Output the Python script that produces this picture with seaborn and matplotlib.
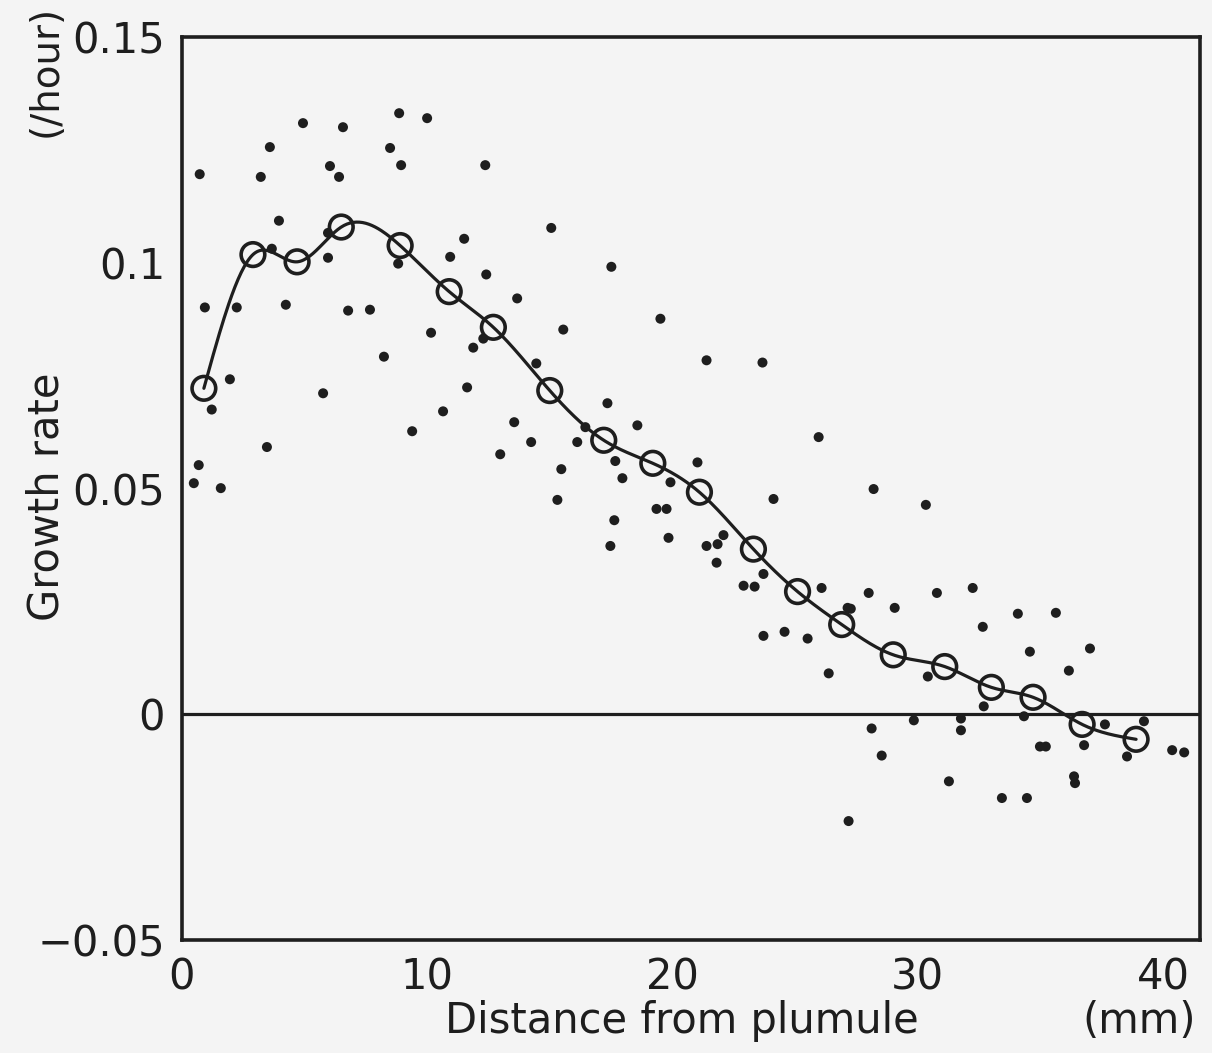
import numpy as np
import pandas as pd
import matplotlib
matplotlib.use("Agg")
import matplotlib.pyplot as plt
import seaborn as sns
from matplotlib import font_manager

# ---------------- data ----------------
mean_x = [0.9, 2.9, 4.7, 6.5, 8.9, 10.9, 12.7, 15.0, 17.2, 19.2,
          21.1, 23.3, 25.1, 26.9, 29.0, 31.1, 33.0, 34.7, 36.7, 38.9]
mean_y = [0.0722, 0.1018, 0.1002, 0.1079, 0.1038, 0.0936, 0.0857, 0.0717, 0.0607, 0.0556,
          0.0492, 0.0366, 0.0272, 0.0199, 0.0132, 0.0106, 0.0060, 0.0038, -0.0022, -0.0055]

dot_x = [0.73, 3.22, 3.59, 4.94, 6.57, 6.04, 6.41, 8.86, 10.0, 8.49,
         8.94, 12.37, 3.96, 5.96, 11.51, 10.94, 12.41, 13.67, 0.94, 2.24,
         4.24, 6.78, 7.67, 10.16, 11.88, 8.24, 8.82, 3.67, 12.29, 5.96,
         15.06, 17.51, 15.55, 19.51, 21.39, 23.67, 14.45, 1.96, 5.76, 11.63,
         1.22, 10.65, 13.55, 9.39, 3.47, 12.98, 0.69, 0.49, 1.59, 17.35,
         18.57, 14.24, 16.12, 25.96, 15.47, 17.67, 17.96, 19.92, 21.02, 15.31,
         19.35, 19.76, 24.12, 17.63, 19.84, 22.08, 21.39, 21.84, 21.80, 17.47,
         23.71, 22.90, 23.35, 26.08, 23.71, 24.57, 25.51, 26.37, 27.14, 28.2,
         30.33, 28.0, 30.78, 32.24, 27.27, 29.06, 32.65, 34.08, 35.63, 34.57,
         37.02, 36.16, 29.84, 31.76, 31.76, 34.33, 28.12, 28.53, 31.27, 33.43,
         34.45, 27.18, 34.98, 35.22, 36.78, 36.37, 36.41, 37.63, 39.22, 38.53,
         40.37, 40.86, 32.69, 30.41, 16.45]
dot_y = [0.1196, 0.1190, 0.1256, 0.1309, 0.1300, 0.1214, 0.1190, 0.1331, 0.1320, 0.1254,
         0.1216, 0.1216, 0.1093, 0.1011, 0.1053, 0.1013, 0.0974, 0.0921, 0.0901, 0.0901,
         0.0907, 0.0894, 0.0896, 0.0845, 0.0812, 0.0792, 0.0998, 0.1031, 0.0832, 0.1066,
         0.1077, 0.0991, 0.0852, 0.0876, 0.0784, 0.0779, 0.0777, 0.0742, 0.0711, 0.0724,
         0.0675, 0.0671, 0.0647, 0.0627, 0.0592, 0.0576, 0.0552, 0.0512, 0.0501, 0.0689,
         0.0640, 0.0603, 0.0603, 0.0614, 0.0543, 0.0561, 0.0523, 0.0514, 0.0558, 0.0475,
         0.0455, 0.0455, 0.0477, 0.0430, 0.0391, 0.0397, 0.0373, 0.0377, 0.0336, 0.0373,
         0.0311, 0.0285, 0.0283, 0.0280, 0.0174, 0.0183, 0.0168, 0.0091, 0.0236, 0.0499,
         0.0464, 0.0269, 0.0269, 0.0280, 0.0234, 0.0236, 0.0194, 0.0223, 0.0225, 0.0139,
         0.0146, 0.0097, -0.0013, -0.0035, -0.0009, -0.0004, -0.0031, -0.0091, -0.0148, -0.0185,
         -0.0185, -0.0236, -0.0071, -0.0071, -0.0068, -0.0137, -0.0152, -0.0022, -0.0015, -0.0093,
         -0.0079, -0.0084, 0.0018, 0.0084, 0.0636]

x_ticks = [0, 10, 20, 30, 40]
x_tick_labels = ["0", "10", "20", "30", "40"]
y_ticks = [-0.05, 0, 0.05, 0.1, 0.15]
y_tick_labels = ["\u22120.05", "0", "0.05", "0.1", "0.15"]


def natural_spline(x, y, n=600):
    x = np.asarray(x, float)
    y = np.asarray(y, float)
    m = len(x)
    h = np.diff(x)
    A = np.zeros((m, m))
    b = np.zeros(m)
    A[0, 0] = A[-1, -1] = 1
    for i in range(1, m - 1):
        A[i, i - 1] = h[i - 1]
        A[i, i] = 2 * (h[i - 1] + h[i])
        A[i, i + 1] = h[i]
        b[i] = 3 * ((y[i + 1] - y[i]) / h[i] - (y[i] - y[i - 1]) / h[i - 1])
    c = np.linalg.solve(A, b)
    bb = np.zeros(m - 1)
    d = np.zeros(m - 1)
    for i in range(m - 1):
        bb[i] = (y[i + 1] - y[i]) / h[i] - h[i] * (2 * c[i] + c[i + 1]) / 3
        d[i] = (c[i + 1] - c[i]) / (3 * h[i])
    xs = np.linspace(x[0], x[-1], n)
    idx = np.clip(np.searchsorted(x, xs) - 1, 0, m - 2)
    dx = xs - x[idx]
    ys = y[idx] + bb[idx] * dx + c[idx] * dx ** 2 + d[idx] * dx ** 3
    return xs, ys


# ---------------- style ----------------
sns.set_theme(style="white")
bg = "#f4f4f4"
ink = "#1e1e1e"
plt.rcParams["font.family"] = ["DejaVu Sans"]

names = {f.name for f in font_manager.fontManager.ttflist}
narrow = "Liberation Sans Narrow" if "Liberation Sans Narrow" in names else "DejaVu Sans"

fig = plt.figure(figsize=(12.12, 10.53), dpi=100, facecolor=bg)
ax = fig.add_axes([0.150, 0.107, 0.840, 0.858])
ax.set_facecolor(bg)

curve_x, curve_y = natural_spline(mean_x, mean_y)
df_dots = pd.DataFrame({"x": dot_x, "y": dot_y})
df_mean = pd.DataFrame({"x": mean_x, "y": mean_y})
df_curve = pd.DataFrame({"x": curve_x, "y": curve_y})

ax.axhline(0, color=ink, lw=2.3, zorder=1)
sns.lineplot(data=df_curve, x="x", y="y", ax=ax, color=ink, lw=2.3, sort=False, zorder=2)
sns.scatterplot(data=df_dots, x="x", y="y", ax=ax, color=ink, s=52, edgecolor="none", zorder=3)
sns.scatterplot(data=df_mean, x="x", y="y", ax=ax, s=290, marker="o",
                facecolors="none", edgecolor=ink, linewidth=2.6, zorder=4)

ax.set_xlim(0, 41.5)
ax.set_ylim(-0.05, 0.15)
ax.set_xticks(x_ticks)
ax.set_xticklabels(x_tick_labels)
ax.set_yticks(y_ticks)
ax.set_yticklabels(y_tick_labels)
ax.tick_params(axis="both", direction="in", length=9, width=2.2, color=ink,
               labelsize=30, labelcolor=ink)
ax.tick_params(axis="x", pad=12)
ax.tick_params(axis="y", pad=12)
for s in ax.spines.values():
    s.set_color(ink)
    s.set_linewidth(2.6)
ax.set_xlabel("")
ax.set_ylabel("")

fig.text(0.563, 0.030, "Distance from plumule", ha="center", va="center",
         fontsize=30, color=ink)
fig.text(0.940, 0.030, "(mm)", ha="center", va="center", fontsize=30, color=ink)
fig.text(0.038, 0.528, "Growth rate", ha="center", va="center", rotation=90,
         fontsize=30, color=ink, family=narrow)
fig.text(0.038, 0.933, "(/hour)", ha="center", va="center", rotation=90,
         fontsize=28, color=ink, family=narrow)

fig.savefig("out.png", dpi=100, facecolor=bg)
